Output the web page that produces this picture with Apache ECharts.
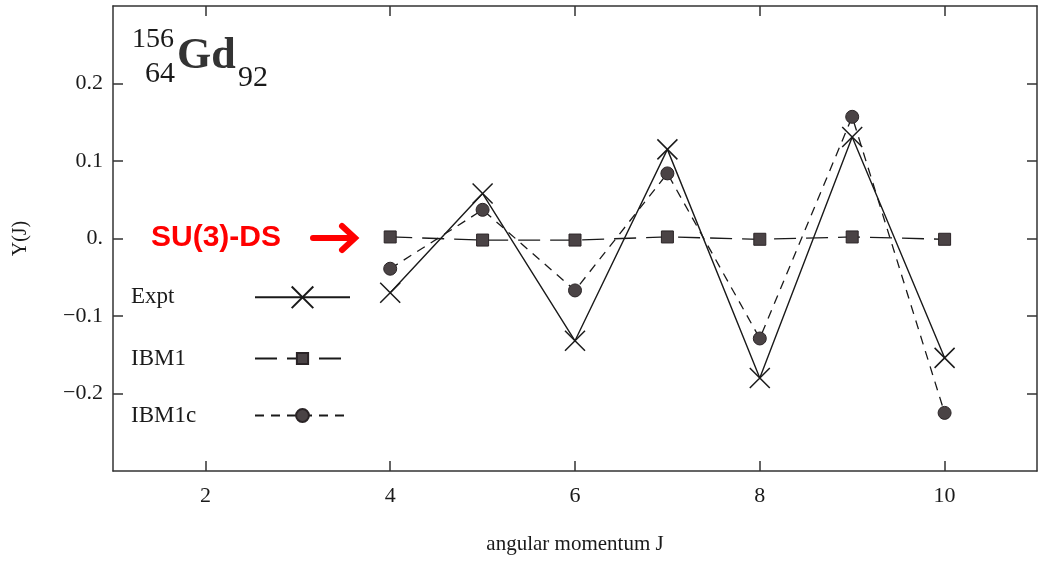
<!DOCTYPE html>
<html>
<head>
<meta charset="utf-8">
<title>Y(J) 156Gd</title>
<script src="https://cdn.jsdelivr.net/npm/echarts@6/dist/echarts.min.js"></script>
<style>
    html, body { margin: 0; padding: 0; background: #fff; }
    #chartsbox { width: 1038px; height: 563px; }
</style>
</head>
<body>
<div id="chartsbox"></div>
<script type="text/javascript">
    // data
    var aJ = [4, 5, 6, 7, 8, 9, 10];
    var aExpt = [-0.070, 0.058, -0.132, 0.115, -0.180, 0.131, -0.154];
    var aIBM1 = [0.002, -0.002, -0.002, 0.002, -0.001, 0.002, -0.001];
    var aIBM1c = [-0.039, 0.037, -0.067, 0.084, -0.129, 0.157, -0.225];
    var aXTicks = [2, 4, 6, 8, 10];
    var aYTicks = [-0.2, -0.1, 0, 0.1, 0.2];

    var serif = 'Liberation Serif';
    var ink = '#1a1a1a';
    var markFill = '#4a4345';
    var crossPath = 'path://M0,0L10,10M10,0L0,10';

    function pairs(aVal) {
        var out = [];
        for (var i = 0; i < aJ.length; i++) { out.push([aJ[i], aVal[i]]); }
        return out;
    }

    function yLabel(v) {
        if (Math.abs(v) < 1e-9) { return '0.'; }
        return (v < 0 ? '\u2212' : '') + Math.abs(v).toFixed(1);
    }

    //legend: text on the left, line sample on the right
    function makeLegend(name, top, itemHeight) {
        return {
            data: [name],
            left: 126,
            top: top,
            orient: 'vertical',
            align: 'right',
            itemWidth: 95,
            itemHeight: itemHeight,
            selectedMode: false,
            formatter: function (n) { return '{t|' + n + '}'; },
            textStyle: {
                rich: {
                    t: { width: 119, align: 'left', fontFamily: serif, fontSize: 23, color: ink, lineHeight: 20, height: 20 }
                }
            }
        };
    }

    var axisLineStyle = { color: '#333', width: 1.5 };

    var myChart = echarts.init(document.getElementById('chartsbox'));
    var option = {
        backgroundColor: '#fff',
        animation: false,
        grid: { left: 113, right: 1, top: 6, bottom: 92 },
        legend: [
            makeLegend('Expt', 279, 27),
            makeLegend('IBM1', 342, 14),
            makeLegend('IBM1c', 399, 16)
        ],
        xAxis: [
            {
                type: 'value', min: 1, max: 11, position: 'bottom',
                axisLine: { show: true, onZero: false, lineStyle: axisLineStyle },
                axisTick: { show: true, inside: true, length: 10, customValues: aXTicks, lineStyle: axisLineStyle },
                axisLabel: { customValues: aXTicks, margin: 14, fontFamily: serif, fontSize: 22, color: ink },
                splitLine: { show: false },
                name: 'angular momentum J',
                nameLocation: 'middle',
                nameGap: 63,
                nameTextStyle: { fontFamily: serif, fontSize: 21, color: ink }
            },
            {
                type: 'value', min: 1, max: 11, position: 'top',
                axisLine: { show: true, onZero: false, lineStyle: axisLineStyle },
                axisTick: { show: true, inside: true, length: 10, customValues: aXTicks, lineStyle: axisLineStyle },
                axisLabel: { show: false },
                splitLine: { show: false }
            }
        ],
        yAxis: [
            {
                type: 'value', min: -0.3, max: 0.3, interval: 0.1, position: 'left',
                axisLine: { show: true, onZero: false, lineStyle: axisLineStyle },
                axisTick: { show: true, inside: true, length: 10, customValues: aYTicks, lineStyle: axisLineStyle },
                axisLabel: { customValues: aYTicks, margin: 10, formatter: yLabel, fontFamily: serif, fontSize: 22, color: ink },
                splitLine: { show: false },
                name: 'Y(J)',
                nameLocation: 'middle',
                nameGap: 82,
                nameTextStyle: { fontFamily: serif, fontSize: 20, color: ink }
            },
            {
                type: 'value', min: -0.3, max: 0.3, interval: 0.1, position: 'right',
                axisLine: { show: true, onZero: false, lineStyle: axisLineStyle },
                axisTick: { show: true, inside: true, length: 10, customValues: aYTicks, lineStyle: axisLineStyle },
                axisLabel: { show: false },
                splitLine: { show: false }
            }
        ],
        series: [
            {
                name: 'Expt', type: 'line', data: pairs(aExpt),
                symbol: crossPath, symbolSize: 20,
                lineStyle: { color: ink, width: 1.4, type: 'solid' },
                itemStyle: { color: 'none', borderColor: ink, borderWidth: 1.5 },
                z: 3
            },
            {
                name: 'IBM1', type: 'line', data: pairs(aIBM1),
                symbol: 'rect', symbolSize: 12,
                lineStyle: { color: ink, width: 1.3, type: [22, 10] },
                itemStyle: { color: markFill, borderColor: '#2a2426', borderWidth: 1 },
                z: 2
            },
            {
                name: 'IBM1c', type: 'line', data: pairs(aIBM1c),
                symbol: 'circle', symbolSize: 13,
                lineStyle: { color: ink, width: 1.3, type: [9, 7] },
                itemStyle: { color: markFill, borderColor: '#2a2426', borderWidth: 1 },
                z: 4
            }
        ],
        graphic: [
            { type: 'text', left: 132, top: 26, style: { text: '156', font: '28px ' + serif, fill: ink } },
            { type: 'text', left: 145, top: 59, style: { text: '64', font: '30px ' + serif, fill: ink } },
            { type: 'text', left: 177, top: 35, style: { text: 'Gd', font: 'bold 44px ' + serif, fill: '#333' } },
            { type: 'text', left: 238, top: 63, style: { text: '92', font: '30px ' + serif, fill: ink } },
            { type: 'text', left: 151, top: 223, style: { text: 'SU(3)-DS', font: 'bold 30px "Liberation Sans"', fill: '#ff0000' } },
            {
                type: 'polyline',
                shape: { points: [[313, 238], [354, 238]] },
                style: { stroke: '#ff0000', lineWidth: 6, lineCap: 'round' }
            },
            {
                type: 'polyline',
                shape: { points: [[342, 226], [355, 238], [342, 250]] },
                style: { stroke: '#ff0000', lineWidth: 6, lineCap: 'round', lineJoin: 'miter', fill: 'none' }
            }
        ]
    };
    myChart.setOption(option);
</script>
</body>
</html>
